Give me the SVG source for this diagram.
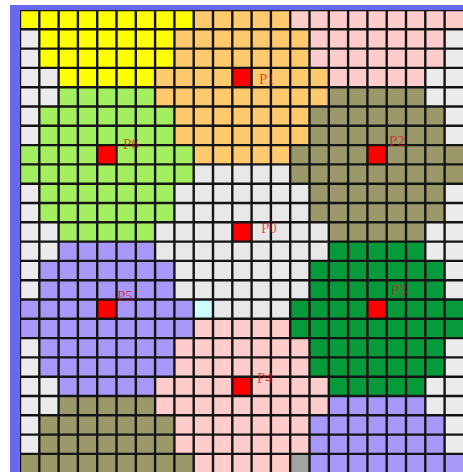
<svg xmlns="http://www.w3.org/2000/svg" xmlns:xlink="http://www.w3.org/1999/xlink" width="463" height="472" viewBox="0 0 463 472">
  <style>
    .yellow{fill:#ffff00}
    .orange{fill:#ffca6e}
    .pink{fill:#ffcccc}
    .lgreen{fill:#a3ef5f}
    .olive{fill:#9b996a}
    .purple{fill:#a898fa}
    .green{fill:#079a3b}
    .p0{fill:#e8e8e8}
    .site{fill:#ff0000}
    .grid{stroke:#141414;stroke-width:2.4;fill:none}
    .lbl{font-family:"Liberation Serif","Times New Roman",serif;font-size:15px;fill:#dd1111;fill-opacity:0.72}
  </style>
  <defs>
    <path id="cell-region" d="M38.6 0H135.1V19.3H154.4V57.9H173.7V96.5H154.4V135.1H135.1V154.4H38.6V135.1H19.3V96.5H0V57.9H19.3V19.3H38.6Z"/>
    <clipPath id="gridclip"><rect x="20" y="10" width="443" height="462"/></clipPath>
  </defs>
  <rect x="0" y="0" width="463" height="472" fill="#ffffff"/>
  <rect x="10" y="5" width="453" height="467" fill="#6868f0"/>
  <g id="regions" clip-path="url(#gridclip)">
    <rect x="20" y="10" width="443.9" height="463.2" fill="#ebebeb"/>
    <use xlink:href="#cell-region" href="#cell-region" class="yellow" transform="translate(20,-67.2)"/>
    <use xlink:href="#cell-region" href="#cell-region" class="lgreen" transform="translate(20,87.2)"/>
    <use xlink:href="#cell-region" href="#cell-region" class="purple" transform="translate(20,241.6)"/>
    <use xlink:href="#cell-region" href="#cell-region" class="olive" transform="translate(20,396)"/>
    <use xlink:href="#cell-region" href="#cell-region" class="pink" transform="translate(290.2,-67.2)"/>
    <use xlink:href="#cell-region" href="#cell-region" class="olive" transform="translate(290.2,87.2)"/>
    <use xlink:href="#cell-region" href="#cell-region" class="green" transform="translate(290.2,241.6)"/>
    <use xlink:href="#cell-region" href="#cell-region" class="purple" transform="translate(290.2,396)"/>
    <use xlink:href="#cell-region" href="#cell-region" class="orange" transform="translate(155.1,10)"/>
    <use xlink:href="#cell-region" href="#cell-region" class="p0" transform="translate(155.1,164.4)"/>
    <use xlink:href="#cell-region" href="#cell-region" class="pink" transform="translate(155.1,318.8)"/>
    <rect x="193.7" y="299.5" width="19.3" height="19.3" fill="#ccffff"/>
    <rect x="290.2" y="453.9" width="19.3" height="19.3" fill="#a3a3a3"/>
    <rect class="site" x="232.3" y="222.3" width="19.3" height="19.3"/>
    <rect class="site" x="232.3" y="67.9" width="19.3" height="19.3"/>
    <rect class="site" x="367.4" y="145.1" width="19.3" height="19.3"/>
    <rect class="site" x="367.4" y="299.5" width="19.3" height="19.3"/>
    <rect class="site" x="232.3" y="376.7" width="19.3" height="19.3"/>
    <rect class="site" x="97.2" y="299.5" width="19.3" height="19.3"/>
    <rect class="site" x="97.2" y="145.1" width="19.3" height="19.3"/>
  </g>
  <g id="connectors" clip-path="url(#gridclip)">
    <path class="grid" d="M20 10V473.2M39.3 10V473.2M58.6 10V473.2M77.9 10V473.2M97.2 10V473.2M116.5 10V473.2M135.8 10V473.2M155.1 10V473.2M174.4 10V473.2M193.7 10V473.2M213 10V473.2M232.3 10V473.2M251.6 10V473.2M270.9 10V473.2M290.2 10V473.2M309.5 10V473.2M328.8 10V473.2M348.1 10V473.2M367.4 10V473.2M386.7 10V473.2M406 10V473.2M425.3 10V473.2M444.6 10V473.2
    M20 10H463.9M20 29.3H463.9M20 48.6H463.9M20 67.9H463.9M20 87.2H463.9M20 106.5H463.9M20 125.8H463.9M20 145.1H463.9M20 164.4H463.9M20 183.7H463.9M20 203H463.9M20 222.3H463.9M20 241.6H463.9M20 260.9H463.9M20 280.2H463.9M20 299.5H463.9M20 318.8H463.9M20 338.1H463.9M20 357.4H463.9M20 376.7H463.9M20 396H463.9M20 415.3H463.9M20 434.6H463.9M20 453.9H463.9"/>
  </g>
  <g id="sites">
    <g id="P0"><text class="lbl" x="261" y="233">P0</text></g>
    <g id="P1"><text class="lbl" x="259" y="84">P1</text></g>
    <g id="P2"><text class="lbl" x="389" y="146">P2</text></g>
    <g id="P3"><text class="lbl" x="391" y="295">P3</text></g>
    <g id="P4"><text class="lbl" x="257" y="383">P4</text></g>
    <g id="P5"><text class="lbl" x="117" y="301">P5</text></g>
    <g id="P6"><text class="lbl" x="123" y="149">P6</text></g>
  </g>
</svg>
